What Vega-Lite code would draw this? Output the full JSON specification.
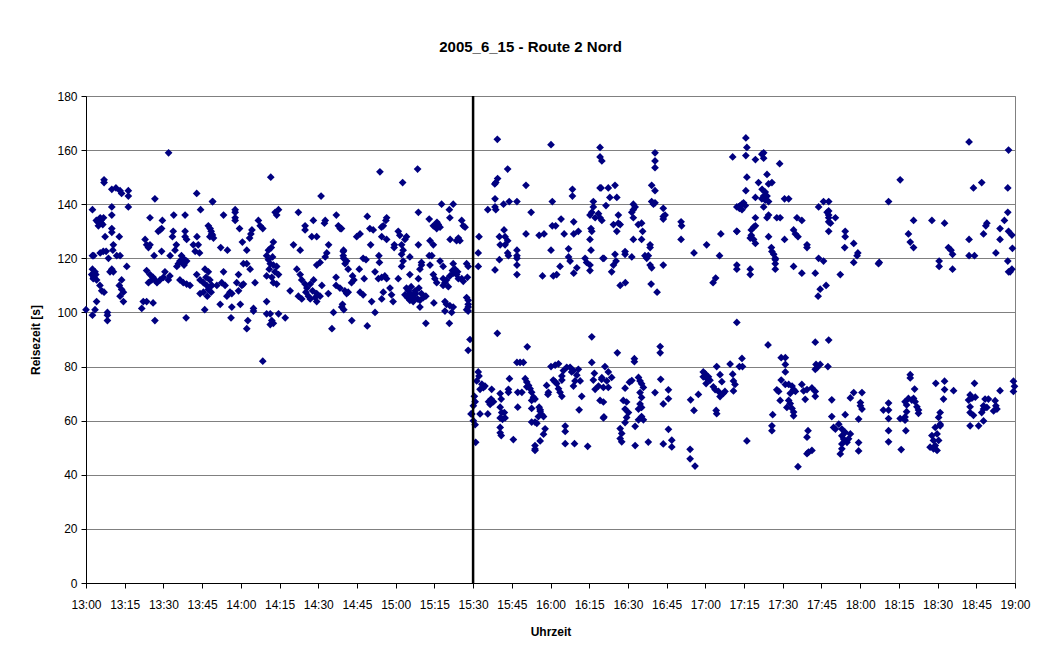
{
  "$schema": "https://vega.github.io/schema/vega-lite/v6.json",
  "width": 929,
  "height": 487,
  "autosize": {"type": "none"},
  "padding": {"left": 86, "top": 96, "right": 27, "bottom": 71},
  "background": "white",
  "title": {"text": "2005_6_15 - Route 2 Nord", "font": "Liberation Sans", "fontSize": 15, "fontWeight": "bold", "color": "#000000", "offset": 35, "anchor": "middle", "dx": -20},
  "config": {
    "view": {"stroke": "#808080", "strokeWidth": 1},
    "axis": {"labelFont": "Liberation Sans", "labelFontSize": 12, "labelColor": "#000000", "titleFont": "Liberation Sans", "titleFontSize": 12, "titleFontWeight": "bold", "titleColor": "#000000", "domainColor": "#000000", "tickColor": "#000000", "tickSize": 5, "gridColor": "#808080", "gridWidth": 1, "gridOpacity": 1, "labelOverlap": false}
  },
  "resolve": {"axis": {"x": "independent"}},
  "datasets": {
    "messungen": [
{"t":32,"rz":159},{"t":7,"rz":149},{"t":7,"rz":148},{"t":10,"rz":145.5},{"t":11.6,"rz":146},{"t":13.2,"rz":145},{"t":13.8,"rz":144},{"t":16.4,"rz":145},{"t":16.4,"rz":143},{"t":26.7,"rz":142},{"t":42.9,"rz":144},{"t":49,"rz":141},{"t":2.5,"rz":138},{"t":10,"rz":139},{"t":10,"rz":136},{"t":16.4,"rz":139},{"t":44.4,"rz":138},{"t":4,"rz":134},{"t":5.5,"rz":135},{"t":6.8,"rz":135},{"t":4.8,"rz":132},{"t":6,"rz":133},{"t":24.8,"rz":135},{"t":29.6,"rz":134},{"t":34,"rz":136},{"t":38.4,"rz":136},{"t":28.7,"rz":130.5},{"t":28,"rz":130},{"t":29.3,"rz":131},{"t":33.8,"rz":130},{"t":33.5,"rz":128},{"t":38.4,"rz":130},{"t":38.4,"rz":128},{"t":39,"rz":127},{"t":47.4,"rz":132},{"t":48,"rz":128},{"t":49,"rz":128.6},{"t":10,"rz":131},{"t":10,"rz":129.6},{"t":7.4,"rz":128},{"t":12.9,"rz":128},{"t":43,"rz":128},{"t":41.6,"rz":125},{"t":43.5,"rz":125},{"t":42.3,"rz":122.6},{"t":22.9,"rz":127},{"t":23.5,"rz":125},{"t":24.2,"rz":124},{"t":24.8,"rz":125},{"t":35,"rz":125},{"t":34.5,"rz":123},{"t":10.6,"rz":125},{"t":10.4,"rz":123},{"t":29.3,"rz":122.6},{"t":6.7,"rz":122.6},{"t":5.5,"rz":122},{"t":7.8,"rz":122.6},{"t":8.7,"rz":120},{"t":11.9,"rz":121},{"t":13.2,"rz":121},{"t":3,"rz":121},{"t":2.5,"rz":121},{"t":26.4,"rz":121},{"t":32.6,"rz":121},{"t":37,"rz":121},{"t":36.4,"rz":119},{"t":35.8,"rz":118},{"t":35.2,"rz":117},{"t":39,"rz":119},{"t":37.7,"rz":120},{"t":44,"rz":122},{"t":47.4,"rz":115},{"t":15.8,"rz":117},{"t":2.5,"rz":116},{"t":3.5,"rz":115},{"t":2.2,"rz":114},{"t":2.8,"rz":112.5},{"t":4.1,"rz":112},{"t":5.4,"rz":110},{"t":6.1,"rz":108},{"t":7,"rz":107.5},{"t":10,"rz":116},{"t":10.6,"rz":115},{"t":9.3,"rz":115},{"t":13.8,"rz":112},{"t":12.9,"rz":110},{"t":14.5,"rz":107.5},{"t":13.8,"rz":108.5},{"t":23.5,"rz":115.5},{"t":24.8,"rz":114},{"t":25.5,"rz":112},{"t":24.2,"rz":111},{"t":26.7,"rz":112},{"t":28.7,"rz":112},{"t":30.6,"rz":115},{"t":31.9,"rz":112},{"t":36.4,"rz":112},{"t":37.7,"rz":111},{"t":39,"rz":110.5},{"t":40.3,"rz":110},{"t":42.9,"rz":114},{"t":44.2,"rz":112},{"t":45.5,"rz":111},{"t":46.1,"rz":116},{"t":46.8,"rz":110},{"t":45.5,"rz":107.5},{"t":44.2,"rz":107},{"t":47.4,"rz":108.5},{"t":48.7,"rz":110},{"t":22.2,"rz":104},{"t":23.5,"rz":104},{"t":26,"rz":103.5},{"t":21.6,"rz":101.5},{"t":4.1,"rz":104},{"t":3.5,"rz":101},{"t":0,"rz":101},{"t":8.3,"rz":100},{"t":8.3,"rz":99},{"t":8.3,"rz":97},{"t":2.5,"rz":99},{"t":26.7,"rz":97},{"t":38.8,"rz":98},{"t":46,"rz":101},{"t":14.5,"rz":104},{"t":13.2,"rz":106},{"t":4.5,"rz":133.5},{"t":5.8,"rz":134},{"t":6.5,"rz":132.5},{"t":3,"rz":113},{"t":3.8,"rz":114},{"t":46.5,"rz":113},{"t":48,"rz":112},{"t":47,"rz":106},{"t":48.5,"rz":107.5},{"t":26,"rz":113},{"t":27.5,"rz":111},{"t":30,"rz":113},{"t":32.5,"rz":113.5},{"t":37.2,"rz":118.5},{"t":38,"rz":117.5},
{"t":71.6,"rz":150},{"t":91.1,"rz":143},{"t":49.1,"rz":141},{"t":53.3,"rz":136},{"t":57.8,"rz":138},{"t":57.8,"rz":137},{"t":57.8,"rz":135},{"t":57.8,"rz":134},{"t":59.5,"rz":131},{"t":64.3,"rz":130.5},{"t":63.9,"rz":129},{"t":63.4,"rz":127.5},{"t":66.8,"rz":134},{"t":67.5,"rz":132},{"t":68.5,"rz":131},{"t":73.3,"rz":137},{"t":74.6,"rz":138},{"t":73.9,"rz":136},{"t":82.3,"rz":137},{"t":88.1,"rz":134},{"t":84.9,"rz":132},{"t":84.9,"rz":130.5},{"t":87.5,"rz":128},{"t":89.4,"rz":128},{"t":92.7,"rz":134},{"t":92.4,"rz":133},{"t":97,"rz":136},{"t":97.8,"rz":132},{"t":98.5,"rz":131},{"t":48.1,"rz":131},{"t":48.7,"rz":129},{"t":49.4,"rz":127.5},{"t":52.2,"rz":124},{"t":54.8,"rz":123},{"t":60.6,"rz":126},{"t":62.3,"rz":123},{"t":72.6,"rz":126},{"t":70.7,"rz":123},{"t":70,"rz":121},{"t":70.7,"rz":119.5},{"t":71.4,"rz":118},{"t":72.6,"rz":117.5},{"t":73.9,"rz":117},{"t":74.6,"rz":114},{"t":70,"rz":113.5},{"t":72,"rz":113},{"t":72.6,"rz":111},{"t":73.9,"rz":110.5},{"t":80.4,"rz":125},{"t":83,"rz":123},{"t":94,"rz":125},{"t":93.3,"rz":122},{"t":92.7,"rz":120.5},{"t":90.7,"rz":118.5},{"t":89.4,"rz":117.5},{"t":99.8,"rz":123},{"t":99.8,"rz":120},{"t":61,"rz":118},{"t":62.3,"rz":118},{"t":63.6,"rz":116},{"t":53.3,"rz":115},{"t":52.6,"rz":111},{"t":50.7,"rz":110},{"t":48.7,"rz":110},{"t":59.1,"rz":114},{"t":58.4,"rz":111},{"t":60.4,"rz":110},{"t":61,"rz":110.5},{"t":59.1,"rz":108},{"t":53.9,"rz":110},{"t":55.8,"rz":107.5},{"t":56.5,"rz":107},{"t":54.6,"rz":106},{"t":65.5,"rz":111},{"t":81.7,"rz":116},{"t":83,"rz":114},{"t":83.6,"rz":112},{"t":84.9,"rz":110.5},{"t":85.6,"rz":109},{"t":86.9,"rz":110.5},{"t":88.2,"rz":112},{"t":79.1,"rz":108},{"t":82.3,"rz":106},{"t":83.6,"rz":105},{"t":86.2,"rz":106},{"t":86.9,"rz":105},{"t":89.4,"rz":107},{"t":90.7,"rz":106},{"t":89.4,"rz":104},{"t":91.4,"rz":110},{"t":93.9,"rz":107},{"t":96.9,"rz":110},{"t":96.9,"rz":113},{"t":52,"rz":103},{"t":56.5,"rz":102},{"t":59.8,"rz":103},{"t":64.9,"rz":101.5},{"t":64.9,"rz":100.5},{"t":70,"rz":104},{"t":70,"rz":99.5},{"t":71.4,"rz":99.5},{"t":74.6,"rz":99.5},{"t":77.2,"rz":98},{"t":71.4,"rz":95.5},{"t":72.6,"rz":96},{"t":72,"rz":97},{"t":56.2,"rz":98},{"t":62.7,"rz":97},{"t":62.3,"rz":94},{"t":95.3,"rz":94},{"t":95.9,"rz":100},{"t":68.5,"rz":82},{"t":99.1,"rz":102},{"t":71,"rz":116},{"t":73.2,"rz":115},{"t":72.3,"rz":120.5},{"t":71.8,"rz":124},{"t":85.2,"rz":107.5},{"t":87.8,"rz":108},{"t":88.8,"rz":105.5},{"t":48.5,"rz":130},
{"t":113.9,"rz":152},{"t":128.5,"rz":153},{"t":122.7,"rz":148},{"t":137.8,"rz":140},{"t":142.3,"rz":140},{"t":140.8,"rz":138},{"t":141,"rz":135},{"t":128.8,"rz":137},{"t":133,"rz":134.5},{"t":134.6,"rz":132},{"t":135.9,"rz":131},{"t":137.2,"rz":131.5},{"t":136.5,"rz":132.5},{"t":145.6,"rz":134},{"t":146.2,"rz":132},{"t":146.9,"rz":131.5},{"t":116.5,"rz":135},{"t":116.2,"rz":134},{"t":115.2,"rz":132},{"t":114.5,"rz":131.5},{"t":109,"rz":135.5},{"t":110,"rz":131},{"t":111.3,"rz":130.5},{"t":104.9,"rz":128},{"t":106.2,"rz":129},{"t":121,"rz":130},{"t":121.6,"rz":128.5},{"t":124.2,"rz":128},{"t":123.6,"rz":127},{"t":114.6,"rz":128},{"t":116.5,"rz":127},{"t":119.5,"rz":125},{"t":119.4,"rz":124},{"t":122.3,"rz":125},{"t":122.9,"rz":123},{"t":128.8,"rz":125},{"t":133.3,"rz":126.5},{"t":134.6,"rz":125},{"t":141.1,"rz":127},{"t":144.3,"rz":127.5},{"t":143.6,"rz":126.5},{"t":144.9,"rz":126.5},{"t":99,"rz":131},{"t":99.7,"rz":122.5},{"t":110.3,"rz":125},{"t":99.7,"rz":121},{"t":101,"rz":119},{"t":100.4,"rz":118},{"t":101.6,"rz":116},{"t":107.4,"rz":120},{"t":108.5,"rz":119.5},{"t":113.5,"rz":121},{"t":113.7,"rz":118.5},{"t":122.3,"rz":121.5},{"t":122.9,"rz":119},{"t":122.3,"rz":117},{"t":125.5,"rz":120.5},{"t":130,"rz":118.5},{"t":130,"rz":117.5},{"t":129.4,"rz":116},{"t":133,"rz":121},{"t":134,"rz":121},{"t":133.3,"rz":117.5},{"t":137.2,"rz":119},{"t":138.4,"rz":117},{"t":142.3,"rz":118},{"t":143,"rz":116},{"t":142.3,"rz":114.5},{"t":141,"rz":113.5},{"t":143.6,"rz":114},{"t":144.3,"rz":112.5},{"t":147.5,"rz":118},{"t":148.1,"rz":117},{"t":147.8,"rz":113},{"t":103.3,"rz":113.5},{"t":103.8,"rz":112},{"t":102.9,"rz":111},{"t":105.9,"rz":116},{"t":107.8,"rz":112.5},{"t":112,"rz":115},{"t":113.3,"rz":112.5},{"t":114.6,"rz":113},{"t":115.8,"rz":113.5},{"t":116.5,"rz":112.5},{"t":121,"rz":112.5},{"t":125.5,"rz":114},{"t":128.8,"rz":112.5},{"t":134.6,"rz":114},{"t":135.2,"rz":112.5},{"t":135.9,"rz":111},{"t":138.4,"rz":112.5},{"t":139.1,"rz":111},{"t":138.4,"rz":110},{"t":140.4,"rz":109.5},{"t":139.7,"rz":112},{"t":145.6,"rz":112.5},{"t":146.2,"rz":111.5},{"t":98.4,"rz":109},{"t":100.3,"rz":108},{"t":101,"rz":107},{"t":101.6,"rz":107.5},{"t":106.2,"rz":107.5},{"t":107.4,"rz":106.5},{"t":115.2,"rz":107.5},{"t":117.8,"rz":109},{"t":118.4,"rz":106.5},{"t":114.6,"rz":105},{"t":124.2,"rz":109},{"t":124.9,"rz":108},{"t":125.5,"rz":107},{"t":126.2,"rz":106.5},{"t":123.6,"rz":106.5},{"t":125.5,"rz":104.5},{"t":126.8,"rz":104},{"t":127.5,"rz":108},{"t":126.8,"rz":105.5},{"t":130,"rz":107},{"t":129.4,"rz":104.5},{"t":130.7,"rz":105.5},{"t":131.7,"rz":106},{"t":134.8,"rz":103.5},{"t":139.1,"rz":104},{"t":139.7,"rz":103},{"t":141,"rz":102.5},{"t":142.3,"rz":102},{"t":141.7,"rz":100},{"t":139.1,"rz":100.5},{"t":147.5,"rz":105.5},{"t":148.1,"rz":104.5},{"t":148.1,"rz":103},{"t":148.1,"rz":102},{"t":148.1,"rz":100.5},{"t":147.5,"rz":101},{"t":99.4,"rz":103},{"t":99.9,"rz":101},{"t":110.7,"rz":104},{"t":112,"rz":100},{"t":119,"rz":104},{"t":129.4,"rz":102},{"t":103,"rz":97},{"t":109,"rz":95},{"t":131.7,"rz":96},{"t":140.8,"rz":96},{"t":148.8,"rz":90},{"t":148.1,"rz":86},{"t":124.6,"rz":105.5},{"t":127.8,"rz":107},{"t":128.5,"rz":105},{"t":126,"rz":109.5},{"t":129,"rz":109},{"t":135.3,"rz":131.8},{"t":136,"rz":133.3},{"t":142,"rz":115.5},{"t":144,"rz":115},
{"t":159.4,"rz":164},{"t":180.2,"rz":162},{"t":199.2,"rz":161},{"t":199.2,"rz":157.5},{"t":199.9,"rz":156},{"t":163.4,"rz":153},{"t":159.5,"rz":149.5},{"t":158.8,"rz":148},{"t":158.4,"rz":147.5},{"t":170.5,"rz":147},{"t":188.5,"rz":145.5},{"t":188.5,"rz":143},{"t":199.6,"rz":146},{"t":158.5,"rz":142},{"t":158.5,"rz":139},{"t":158.8,"rz":138},{"t":164,"rz":141},{"t":161.8,"rz":140},{"t":167,"rz":141},{"t":155.7,"rz":138},{"t":180.7,"rz":141},{"t":172.5,"rz":137},{"t":196.6,"rz":141},{"t":196.6,"rz":139},{"t":196,"rz":137},{"t":195.3,"rz":136},{"t":197.3,"rz":135},{"t":198.6,"rz":136.5},{"t":199.2,"rz":135},{"t":199.9,"rz":134},{"t":184.1,"rz":134.5},{"t":180.7,"rz":132},{"t":182,"rz":132},{"t":189,"rz":133.5},{"t":190.8,"rz":130},{"t":189,"rz":129},{"t":170.5,"rz":129},{"t":175.6,"rz":128.5},{"t":177.5,"rz":129},{"t":185.3,"rz":129},{"t":195.7,"rz":131},{"t":196,"rz":130},{"t":152.3,"rz":128},{"t":160.2,"rz":128},{"t":162,"rz":130.5},{"t":162.4,"rz":128},{"t":163.4,"rz":126.5},{"t":160.5,"rz":125},{"t":162.4,"rz":125},{"t":195.3,"rz":127},{"t":152,"rz":122},{"t":152,"rz":117},{"t":163.4,"rz":122},{"t":163.7,"rz":121},{"t":167,"rz":123},{"t":167,"rz":121},{"t":167,"rz":120},{"t":167,"rz":117.5},{"t":160.2,"rz":119.5},{"t":180.2,"rz":123},{"t":187,"rz":123.5},{"t":187,"rz":120.5},{"t":187.6,"rz":119},{"t":195.7,"rz":123},{"t":193.4,"rz":120},{"t":194,"rz":118.5},{"t":195.3,"rz":117.5},{"t":195.3,"rz":115.5},{"t":183.7,"rz":117},{"t":182.4,"rz":114},{"t":181.1,"rz":113.5},{"t":176.9,"rz":113.5},{"t":189,"rz":114.5},{"t":190.2,"rz":116.5},{"t":200.3,"rz":120},{"t":167,"rz":114},{"t":158.5,"rz":115.7},{"t":207,"rz":110},{"t":209,"rz":111},{"t":219,"rz":110.5},{"t":221.3,"rz":107.5},{"t":243,"rz":111},{"t":244,"rz":112.7},{"t":283.7,"rz":106},{"t":284.5,"rz":108.6},{"t":286.8,"rz":110},
{"t":220.5,"rz":159},{"t":220.5,"rz":156},{"t":220.5,"rz":153.5},{"t":250.6,"rz":157.5},{"t":199.2,"rz":146},{"t":202.4,"rz":146},{"t":205,"rz":147},{"t":203,"rz":142.5},{"t":205.7,"rz":142.5},{"t":219.2,"rz":147},{"t":220.5,"rz":145},{"t":219.2,"rz":141},{"t":220.5,"rz":140.5},{"t":219.9,"rz":140},{"t":212.1,"rz":140},{"t":212.8,"rz":139},{"t":212.1,"rz":138},{"t":211.5,"rz":137},{"t":223.7,"rz":138.5},{"t":223.7,"rz":135.5},{"t":224.4,"rz":136},{"t":223.7,"rz":134.5},{"t":201.5,"rz":139.5},{"t":206.3,"rz":136},{"t":204.4,"rz":132.5},{"t":206.3,"rz":133},{"t":207,"rz":132.5},{"t":205.7,"rz":130},{"t":212.1,"rz":135},{"t":215.3,"rz":133},{"t":214,"rz":132.5},{"t":215.7,"rz":130},{"t":212.1,"rz":127},{"t":215.3,"rz":127},{"t":230.6,"rz":133.5},{"t":230.8,"rz":132},{"t":230.6,"rz":127},{"t":252.2,"rz":139},{"t":253.2,"rz":138.5},{"t":252.2,"rz":130},{"t":246,"rz":129},{"t":240.5,"rz":125},{"t":235.6,"rz":122},{"t":245.5,"rz":121},{"t":218.6,"rz":125},{"t":218.6,"rz":124},{"t":208.9,"rz":122.5},{"t":208.9,"rz":121.5},{"t":211.5,"rz":120.5},{"t":216.6,"rz":121},{"t":217.9,"rz":121},{"t":217.3,"rz":120},{"t":205,"rz":121.5},{"t":205.4,"rz":119},{"t":204.4,"rz":117.5},{"t":200.7,"rz":120},{"t":218.6,"rz":117.5},{"t":219.2,"rz":116.5},{"t":223.7,"rz":117.5},{"t":203.7,"rz":115},{"t":252.2,"rz":117.5},
{"t":255.7,"rz":164.5},{"t":256.1,"rz":161},{"t":255.7,"rz":158},{"t":262.6,"rz":159},{"t":261.9,"rz":158.5},{"t":262.6,"rz":157},{"t":259.4,"rz":156.5},{"t":268.8,"rz":155},{"t":256.1,"rz":150},{"t":255.7,"rz":145},{"t":259.4,"rz":142.5},{"t":260.6,"rz":148},{"t":263.9,"rz":151},{"t":264.5,"rz":147.5},{"t":265.8,"rz":148},{"t":262,"rz":145.5},{"t":263.2,"rz":144.5},{"t":262.6,"rz":143},{"t":263.9,"rz":143},{"t":263.2,"rz":141.5},{"t":261.9,"rz":142},{"t":264.5,"rz":141},{"t":270.7,"rz":142},{"t":272.3,"rz":142},{"t":253.5,"rz":139.5},{"t":254.2,"rz":140},{"t":254.8,"rz":140.5},{"t":255.5,"rz":139.5},{"t":252.9,"rz":139},{"t":254.2,"rz":138},{"t":259.4,"rz":135},{"t":259.4,"rz":132},{"t":258.7,"rz":131.5},{"t":257.8,"rz":130.5},{"t":262.6,"rz":139},{"t":264.5,"rz":136},{"t":263.9,"rz":135},{"t":267.7,"rz":135},{"t":269,"rz":135},{"t":275.5,"rz":135},{"t":277.4,"rz":134},{"t":283.9,"rz":139},{"t":285.8,"rz":141},{"t":287.8,"rz":141},{"t":287.8,"rz":137.5},{"t":287.8,"rz":136},{"t":287.8,"rz":135},{"t":287.8,"rz":133.5},{"t":288.5,"rz":133},{"t":287.2,"rz":137},{"t":290.4,"rz":135},{"t":287.8,"rz":130},{"t":252.2,"rz":130},{"t":257.8,"rz":128.5},{"t":257.4,"rz":127.5},{"t":258.7,"rz":127},{"t":259.4,"rz":125.5},{"t":264.5,"rz":128},{"t":270.7,"rz":127},{"t":274.2,"rz":130.5},{"t":274.9,"rz":129},{"t":275.9,"rz":128},{"t":279.4,"rz":125},{"t":279.4,"rz":124},{"t":265.6,"rz":124},{"t":265.8,"rz":122.5},{"t":266.5,"rz":121.5},{"t":267.1,"rz":120},{"t":267.1,"rz":119.5},{"t":267.1,"rz":118},{"t":267.1,"rz":116},{"t":294.2,"rz":130},{"t":294.2,"rz":128},{"t":297.5,"rz":125.5},{"t":294,"rz":124},{"t":299.1,"rz":122},{"t":298.8,"rz":121},{"t":297.5,"rz":118.5},{"t":307.4,"rz":118.5},{"t":283.9,"rz":120},{"t":285.8,"rz":119},{"t":274.2,"rz":117},{"t":277.4,"rz":114.5},{"t":282.6,"rz":114.5},{"t":252.2,"rz":116},{"t":257.4,"rz":116},{"t":257.4,"rz":114},{"t":292.3,"rz":114},
{"t":342.2,"rz":163},{"t":357.5,"rz":160},{"t":315.5,"rz":149},{"t":343.9,"rz":146},{"t":347.1,"rz":148},{"t":357.2,"rz":146},{"t":311,"rz":141},{"t":320.7,"rz":134},{"t":327.8,"rz":134},{"t":332.7,"rz":133},{"t":318.7,"rz":129},{"t":319.4,"rz":126},{"t":320.7,"rz":124},{"t":334.2,"rz":124},{"t":335.2,"rz":123},{"t":335.8,"rz":121.5},{"t":342.2,"rz":127},{"t":342.2,"rz":121},{"t":344.3,"rz":121},{"t":349.1,"rz":133},{"t":348.7,"rz":132},{"t":347.8,"rz":129},{"t":354.2,"rz":131},{"t":354.2,"rz":127},{"t":355.9,"rz":134},{"t":357.2,"rz":137},{"t":357.5,"rz":130},{"t":358.8,"rz":128.6},{"t":359,"rz":123.7},{"t":352.6,"rz":122},{"t":307.1,"rz":118},{"t":330.6,"rz":119},{"t":330.6,"rz":117},{"t":335.8,"rz":116},{"t":357.2,"rz":119},{"t":357.5,"rz":115},{"t":358.8,"rz":116},{"t":358.1,"rz":115},
{"t":159.4,"rz":92.3},{"t":196,"rz":91},{"t":171,"rz":87.3},{"t":167,"rz":81.5},{"t":168.2,"rz":81.5},{"t":169.5,"rz":81.5},{"t":196,"rz":81.5},{"t":152,"rz":78},{"t":152.3,"rz":76.5},{"t":151.4,"rz":74.7},{"t":153.4,"rz":73.5},{"t":152.7,"rz":71.6},{"t":154,"rz":72.2},{"t":154.6,"rz":72.8},{"t":150.5,"rz":69},{"t":150.8,"rz":67},{"t":150.1,"rz":65.5},{"t":149.5,"rz":62.5},{"t":150.1,"rz":60},{"t":150.8,"rz":58.5},{"t":151,"rz":52},{"t":149.2,"rz":62.5},{"t":152.7,"rz":62.5},{"t":155.7,"rz":62.5},{"t":157.2,"rz":71.6},{"t":160.5,"rz":70},{"t":160.9,"rz":68},{"t":160.5,"rz":65},{"t":161.1,"rz":63},{"t":160.5,"rz":61},{"t":156,"rz":67},{"t":157,"rz":68},{"t":157.9,"rz":67},{"t":156.6,"rz":66},{"t":164.1,"rz":75.5},{"t":163.7,"rz":71.6},{"t":163.7,"rz":70.5},{"t":162.1,"rz":63},{"t":162.4,"rz":61},{"t":161.4,"rz":60.5},{"t":160.5,"rz":57.5},{"t":160.5,"rz":55.5},{"t":160.9,"rz":54.5},{"t":165.6,"rz":53},{"t":167.3,"rz":70.5},{"t":168.9,"rz":70.5},{"t":167.3,"rz":65},{"t":170.2,"rz":75.5},{"t":170.8,"rz":74.3},{"t":171.5,"rz":73},{"t":172.1,"rz":71.8},{"t":172.7,"rz":70.5},{"t":173.4,"rz":68.7},{"t":172.7,"rz":67.5},{"t":174,"rz":68},{"t":170.8,"rz":72.5},{"t":172.7,"rz":64.5},{"t":172.7,"rz":59.5},{"t":174,"rz":59.5},{"t":174.7,"rz":59},{"t":175.3,"rz":61.5},{"t":176,"rz":63.5},{"t":176.6,"rz":62.3},{"t":177.3,"rz":61.5},{"t":175.6,"rz":65},{"t":176,"rz":64},{"t":177.9,"rz":57},{"t":177.3,"rz":55},{"t":176,"rz":52.5},{"t":174,"rz":50.8},{"t":174,"rz":49.5},{"t":174,"rz":49},{"t":179,"rz":69.7},{"t":179.2,"rz":70.5},{"t":178.5,"rz":73},{"t":180.2,"rz":80},{"t":181.8,"rz":80.5},{"t":183.1,"rz":81},{"t":181.1,"rz":75},{"t":181.8,"rz":74.3},{"t":182.4,"rz":73.7},{"t":183.1,"rz":71.8},{"t":183.7,"rz":70.5},{"t":184.4,"rz":76.5},{"t":185,"rz":78.5},{"t":184.4,"rz":69},{"t":184.4,"rz":75},{"t":186.3,"rz":79.7},{"t":187.6,"rz":79.7},{"t":188.2,"rz":78},{"t":188.9,"rz":78.5},{"t":190.2,"rz":76.8},{"t":190.8,"rz":79},{"t":189.5,"rz":74.7},{"t":188.9,"rz":72.8},{"t":191.5,"rz":74.7},{"t":192.1,"rz":69},{"t":191.1,"rz":64},{"t":185.7,"rz":58},{"t":185.7,"rz":56},{"t":185.7,"rz":51.5},{"t":189.3,"rz":51.5},{"t":194.4,"rz":50.5},{"t":197,"rz":77.5},{"t":196.6,"rz":75},{"t":197.3,"rz":71.6},{"t":198.6,"rz":72.8},{"t":199.9,"rz":75.9},{"t":200.5,"rz":61},
{"t":252.2,"rz":96.3},{"t":222.5,"rz":87.4},{"t":222.5,"rz":85.1},{"t":205.9,"rz":85.1},{"t":212.5,"rz":82.9},{"t":212.5,"rz":81.8},{"t":201.1,"rz":80},{"t":202.4,"rz":78},{"t":203.7,"rz":76},{"t":201.8,"rz":74.7},{"t":202.4,"rz":72.3},{"t":200.5,"rz":72.3},{"t":199.8,"rz":75.3},{"t":199.2,"rz":67.5},{"t":200.5,"rz":66.9},{"t":200.7,"rz":61.4},{"t":208.9,"rz":72},{"t":210.6,"rz":74.2},{"t":211.5,"rz":74.8},{"t":214.1,"rz":76},{"t":214.7,"rz":74.7},{"t":215.3,"rz":73.6},{"t":216,"rz":72.3},{"t":214.7,"rz":70.4},{"t":215.3,"rz":68.6},{"t":214.7,"rz":66.2},{"t":215.3,"rz":64.9},{"t":214.1,"rz":64.3},{"t":208.2,"rz":67.5},{"t":209.5,"rz":66.9},{"t":208.9,"rz":64.3},{"t":210.2,"rz":63},{"t":209.5,"rz":61.2},{"t":208.9,"rz":59.3},{"t":215.3,"rz":61.5},{"t":216,"rz":60.3},{"t":214.1,"rz":60.3},{"t":207,"rz":57.1},{"t":207.6,"rz":55.3},{"t":207,"rz":53.4},{"t":207.6,"rz":52.2},{"t":212.8,"rz":57.9},{"t":212.8,"rz":50.8},{"t":217.9,"rz":52.1},{"t":220.5,"rz":70.4},{"t":222.7,"rz":75.3},{"t":223.7,"rz":66.2},{"t":225.7,"rz":71.4},{"t":225.7,"rz":68.1},{"t":223.7,"rz":51.4},{"t":225.7,"rz":56.8},{"t":227,"rz":52.8},{"t":227,"rz":50.3},{"t":234.3,"rz":67.7},{"t":237.3,"rz":69.7},{"t":235.6,"rz":63.8},{"t":234.1,"rz":49.4},{"t":234.1,"rz":45.9},{"t":236,"rz":43.2},{"t":239.2,"rz":78},{"t":239.9,"rz":77.4},{"t":239.2,"rz":76.2},{"t":240.5,"rz":75.6},{"t":241.2,"rz":76.2},{"t":241.8,"rz":74.9},{"t":240.3,"rz":73.7},{"t":243.1,"rz":72.5},{"t":244.4,"rz":80},{"t":243.8,"rz":71.5},{"t":245.7,"rz":77},{"t":246.4,"rz":74.4},{"t":245.1,"rz":70.8},{"t":245.7,"rz":68.9},{"t":247,"rz":70.1},{"t":247.6,"rz":70.8},{"t":249.6,"rz":80.9},{"t":250.6,"rz":77.2},{"t":250.9,"rz":74.7},{"t":250.9,"rz":71},{"t":251.5,"rz":73.4},{"t":244.2,"rz":63.8},{"t":244.4,"rz":62.6},{"t":253.2,"rz":80},
{"t":264.3,"rz":88},{"t":282.6,"rz":89},{"t":287.8,"rz":89.8},{"t":254.2,"rz":83},{"t":254.4,"rz":80},{"t":269.4,"rz":83.3},{"t":271,"rz":83.3},{"t":271,"rz":80.8},{"t":271,"rz":78},{"t":269.4,"rz":75},{"t":271,"rz":73.4},{"t":282.9,"rz":80.8},{"t":283.3,"rz":79.6},{"t":284.5,"rz":80.8},{"t":282.6,"rz":79},{"t":287.5,"rz":80},{"t":267.7,"rz":71.4},{"t":268.4,"rz":70.8},{"t":269,"rz":67.5},{"t":272.3,"rz":73.4},{"t":273.6,"rz":72.8},{"t":274.2,"rz":71.5},{"t":272.9,"rz":70.1},{"t":274.9,"rz":70.8},{"t":272.3,"rz":67.5},{"t":272.9,"rz":66.3},{"t":273.6,"rz":64.5},{"t":274.2,"rz":63.2},{"t":274.2,"rz":61.8},{"t":271.6,"rz":64.9},{"t":277.4,"rz":73.4},{"t":278.1,"rz":71},{"t":278.7,"rz":67.9},{"t":279.4,"rz":71.5},{"t":281.3,"rz":72.1},{"t":282.6,"rz":70.8},{"t":282.6,"rz":69},{"t":289,"rz":67.7},{"t":289,"rz":61.5},{"t":294.2,"rz":62.2},{"t":296.2,"rz":68.4},{"t":297.5,"rz":70.4},{"t":300.7,"rz":70.4},{"t":300.1,"rz":66.7},{"t":300.1,"rz":65.5},{"t":300.7,"rz":64.3},{"t":299.4,"rz":60.6},{"t":266.1,"rz":62.2},{"t":265.8,"rz":58.1},{"t":265.8,"rz":56.3},{"t":279.8,"rz":56.3},{"t":279.4,"rz":53.9},{"t":280,"rz":48.4},{"t":279.4,"rz":47.8},{"t":281.3,"rz":49},{"t":256.1,"rz":52.5},{"t":275.9,"rz":43},{"t":289.7,"rz":57.5},{"t":290.4,"rz":56.9},{"t":291.7,"rz":58.7},{"t":292.9,"rz":56.9},{"t":294.2,"rz":55.7},{"t":292.9,"rz":54.4},{"t":293.6,"rz":53.2},{"t":294.9,"rz":52},{"t":296.2,"rz":55.1},{"t":295.5,"rz":53.3},{"t":292.9,"rz":51.4},{"t":292.3,"rz":47.7},{"t":292.9,"rz":49.6},{"t":299.4,"rz":51.9},{"t":299.4,"rz":48.8},
{"t":319.4,"rz":77},{"t":319.4,"rz":75.8},{"t":329.3,"rz":73.8},{"t":332.7,"rz":74.6},{"t":332.7,"rz":71.5},{"t":344.3,"rz":73.8},{"t":359.4,"rz":74.6},{"t":359.8,"rz":72.7},{"t":359.4,"rz":70.8},{"t":321.1,"rz":71.7},{"t":318.7,"rz":68.2},{"t":320.7,"rz":68.2},{"t":317.4,"rz":67},{"t":318,"rz":65.8},{"t":320,"rz":67.6},{"t":321.3,"rz":67},{"t":322,"rz":65.1},{"t":322.6,"rz":62.7},{"t":322.6,"rz":63.9},{"t":318,"rz":63.3},{"t":317.4,"rz":61.4},{"t":311,"rz":66.5},{"t":309,"rz":63.9},{"t":311,"rz":63.9},{"t":311,"rz":60.8},{"t":315.5,"rz":60.8},{"t":317.4,"rz":60.2},{"t":336.2,"rz":71.1},{"t":332.3,"rz":68},{"t":331,"rz":63},{"t":330.4,"rz":61.2},{"t":331,"rz":58.7},{"t":329.1,"rz":57.5},{"t":331,"rz":58.1},{"t":329.8,"rz":55.1},{"t":327.8,"rz":54.5},{"t":328.4,"rz":52.7},{"t":327.1,"rz":50.2},{"t":328.4,"rz":49.6},{"t":329.8,"rz":49},{"t":329.1,"rz":50.8},{"t":330.4,"rz":52.7},{"t":311,"rz":56.3},{"t":311,"rz":52.2},{"t":317.7,"rz":56.3},{"t":315.9,"rz":49.3},{"t":342.6,"rz":69.5},{"t":342,"rz":67.6},{"t":342.6,"rz":65.1},{"t":343.3,"rz":68.3},{"t":344.6,"rz":68.7},{"t":342.6,"rz":63},{"t":343.9,"rz":62},{"t":342.6,"rz":58.1},{"t":345.9,"rz":58.1},{"t":347.8,"rz":59.9},{"t":347.1,"rz":63},{"t":347.8,"rz":65.5},{"t":348.4,"rz":68},{"t":349.7,"rz":68},{"t":349.1,"rz":64.9},{"t":347.8,"rz":64.3},{"t":352.3,"rz":67.4},{"t":352.6,"rz":65.5},{"t":353,"rz":64.3},{"t":354.2,"rz":71.1},{"t":351.7,"rz":63.6}
    ]
  },
  "layer": [
    {
      "data": {"name": "messungen"},
      "mark": {"type": "point", "shape": "diamond", "filled": true, "size": 60, "color": "#000080", "opacity": 1},
      "encoding": {
        "x": {"field": "t", "type": "quantitative", "scale": {"domain": [0, 360], "nice": false, "zero": false},
          "axis": {"orient": "bottom", "title": "Uhrzeit", "values": [0,30,60,90,120,150,180,210,240,270,300,330,360], "labelExpr": "(13 + floor(datum.value / 60)) + ':' + (datum.value % 60 < 10 ? '0' : '') + (datum.value % 60)", "grid": false, "labelPadding": 11, "titlePadding": 16, "labelFlush": false}},
        "y": {"field": "rz", "type": "quantitative", "scale": {"domain": [0, 180], "nice": false},
          "axis": {"title": "Reisezeit [s]", "values": [0,20,40,60,80,100,120,140,160,180], "grid": true, "labelPadding": 4, "titlePadding": 14}}
      }
    },
    {
      "data": {"values": [{"t": 150}]},
      "mark": {"type": "rule", "color": "#000000", "strokeWidth": 2.5},
      "encoding": {"x": {"field": "t", "type": "quantitative",
        "axis": {"orient": "bottom", "title": null, "values": [15,45,75,105,135,165,195,225,255,285,315,345], "labelExpr": "(13 + floor(datum.value / 60)) + ':' + (datum.value % 60 < 10 ? '0' : '') + (datum.value % 60)", "grid": false, "labelPadding": 11, "labelFlush": false}}}
    }
  ]
}
